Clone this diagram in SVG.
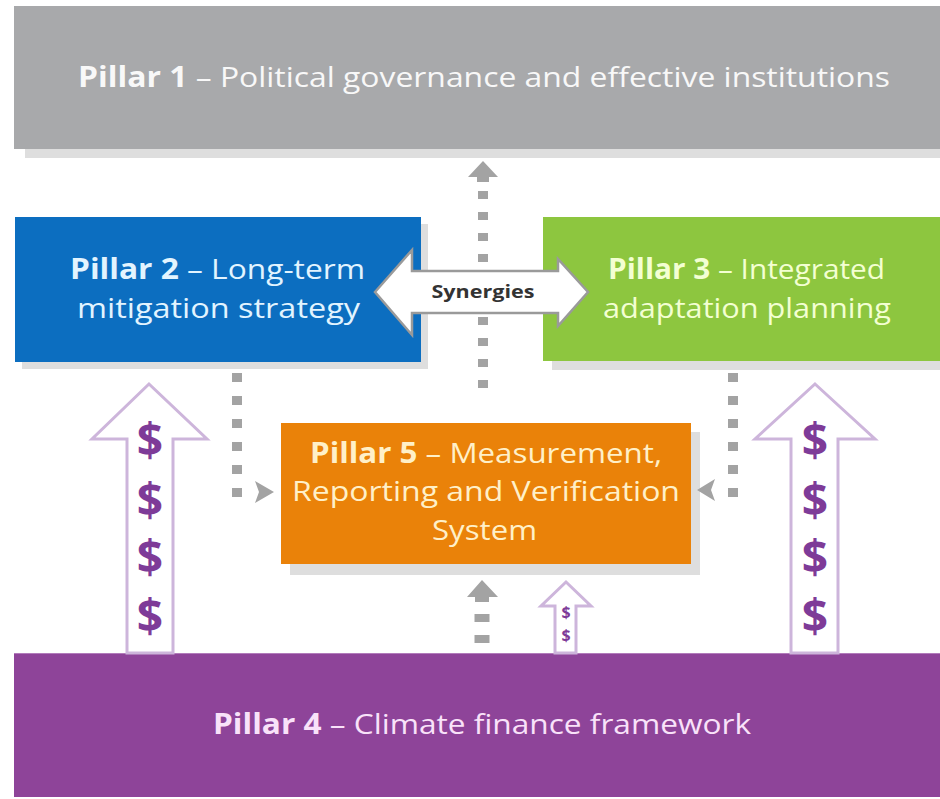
<svg xmlns="http://www.w3.org/2000/svg" width="940" height="799" viewBox="0 0 940 799">
  <defs>
    <style>
      .lbl{font-family:"Open Sans","Noto Sans","Liberation Sans",sans-serif;font-size:28px;}
      .b{font-weight:700}
      .shadow{fill:#dedede}
      .dash{stroke:#a3a3a3;fill:none}
      .ghead{fill:#a3a3a3}
      .money{fill:#ffffff;stroke:#cdb5db;stroke-width:3;stroke-linejoin:miter}
      .dollar{font-family:"Open Sans","Liberation Sans",sans-serif;font-weight:700;fill:#7e3b98;text-anchor:middle}
    </style>
  </defs>

  <rect width="940" height="799" fill="#ffffff"/>

  <!-- Pillar 1 -->
  <g id="pillar1">
    <rect x="25" y="149" width="915" height="9" class="shadow"/>
    <rect x="14" y="6" width="926" height="143" fill="#a8a9ab"/>
    <text x="78" y="87" class="lbl" font-size="32" fill="#f8f8f8" textLength="812" lengthAdjust="spacingAndGlyphs"><tspan class="b">Pillar 1</tspan> – Political governance and effective institutions</text>
  </g>

  <!-- Pillar 2 -->
  <g id="pillar2">
    <rect x="22" y="224" width="406" height="145" class="shadow"/>
    <rect x="15" y="217" width="406" height="145" fill="#0c6ec0"/>
    <text x="70" y="279" class="lbl" fill="#e2f4ff" textLength="295" lengthAdjust="spacingAndGlyphs"><tspan class="b">Pillar 2</tspan> – Long-term</text>
    <text x="77" y="318" class="lbl" fill="#e2f4ff" textLength="283" lengthAdjust="spacingAndGlyphs">mitigation strategy</text>
  </g>

  <!-- Pillar 3 -->
  <g id="pillar3">
    <rect x="552" y="224" width="388" height="146" class="shadow"/>
    <rect x="543" y="217" width="397" height="144" fill="#8dc63f"/>
    <text x="608" y="279" class="lbl" fill="#f3ffd2" textLength="277" lengthAdjust="spacingAndGlyphs"><tspan class="b">Pillar 3</tspan> – Integrated</text>
    <text x="603" y="318" class="lbl" fill="#f3ffd2" textLength="288" lengthAdjust="spacingAndGlyphs">adaptation planning</text>
  </g>

  <!-- Pillar 5 -->
  <g id="pillar5">
    <rect x="290" y="432" width="410" height="143" class="shadow"/>
    <rect x="281" y="423" width="410" height="141" fill="#ea8209"/>
    <text x="310" y="463" class="lbl" fill="#fff0c8" textLength="352" lengthAdjust="spacingAndGlyphs"><tspan class="b">Pillar 5</tspan> – Measurement,</text>
    <text x="292" y="501" class="lbl" fill="#fff0c8" textLength="388" lengthAdjust="spacingAndGlyphs">Reporting and Verification</text>
    <text x="432" y="540" class="lbl" fill="#fff0c8" textLength="105" lengthAdjust="spacingAndGlyphs">System</text>
  </g>

  <!-- Pillar 4 -->
  <g id="pillar4">
    <rect x="14" y="653" width="926" height="144" fill="#8e4499"/>
    <line x1="14" y1="653.5" x2="940" y2="653.5" stroke="#b27bbb" stroke-width="1"/>
    <text x="213" y="734" class="lbl" font-size="31" fill="#f9e2f9" textLength="538" lengthAdjust="spacingAndGlyphs"><tspan class="b">Pillar 4</tspan> – Climate finance framework</text>
  </g>

  <!-- Connectors -->
  <g id="connectors">
    <!-- central link up to Pillar 1 -->
    <line x1="483" y1="191" x2="483" y2="388" class="dash" stroke-width="10" stroke-dasharray="8 13"/>
    <polygon points="483,161 498,177 489,177 489,182 477,182 477,177 468,177" class="ghead"/>

    <!-- Pillar 2 to Pillar 5 -->
    <line x1="237" y1="373" x2="237" y2="497" class="dash" stroke-width="10" stroke-dasharray="9 14"/>
    <polygon points="255,481 274,492 255,503 259,492" class="ghead"/>

    <!-- Pillar 3 to Pillar 5 -->
    <line x1="733" y1="373" x2="733" y2="497" class="dash" stroke-width="10" stroke-dasharray="9 14"/>
    <polygon points="715,479 697,490 715,501 711,490" class="ghead"/>

    <!-- Pillar 4 to Pillar 5 -->
    <line x1="482" y1="614" x2="482" y2="644" class="dash" stroke-width="15" stroke-dasharray="8 13"/>
    <polygon points="482,580 498,597 489,597 489,602 475,602 475,597 467,597" class="ghead"/>

    <!-- Synergies between Pillar 2 and Pillar 3 -->
    <polygon points="375,292 412,250 412,271 558,271 558,259 588,292 558,326 558,313 412,313 412,335" fill="#ffffff" stroke="#9a9a9a" stroke-width="2.5" stroke-linejoin="miter"/>
    <text x="483" y="298" font-family="Open Sans, Liberation Sans, sans-serif" font-size="17" font-weight="700" fill="#333333" text-anchor="middle" textLength="103" lengthAdjust="spacingAndGlyphs">Synergies</text>

    <!-- finance flows from Pillar 4 -->
    <polygon points="149,384 207,439 173,439 173,653 127,653 127,439 92,439" class="money"/>
    <text class="dollar" font-size="46" x="150" y="457">$</text>
    <text class="dollar" font-size="46" x="150" y="517">$</text>
    <text class="dollar" font-size="46" x="150" y="574">$</text>
    <text class="dollar" font-size="46" x="150" y="633">$</text>

    <polygon points="815,384 875,439 838,439 838,653 791,653 791,439 755,439" class="money"/>
    <text class="dollar" font-size="46" x="815" y="457">$</text>
    <text class="dollar" font-size="46" x="815" y="517">$</text>
    <text class="dollar" font-size="46" x="815" y="574">$</text>
    <text class="dollar" font-size="46" x="815" y="633">$</text>

    <polygon points="566,582 591,606 576,606 576,653 555,653 555,606 541,606" class="money" stroke-width="2"/>
    <text class="dollar" font-size="16" x="566" y="618">$</text>
    <text class="dollar" font-size="16" x="566" y="641">$</text>
  </g>
</svg>
